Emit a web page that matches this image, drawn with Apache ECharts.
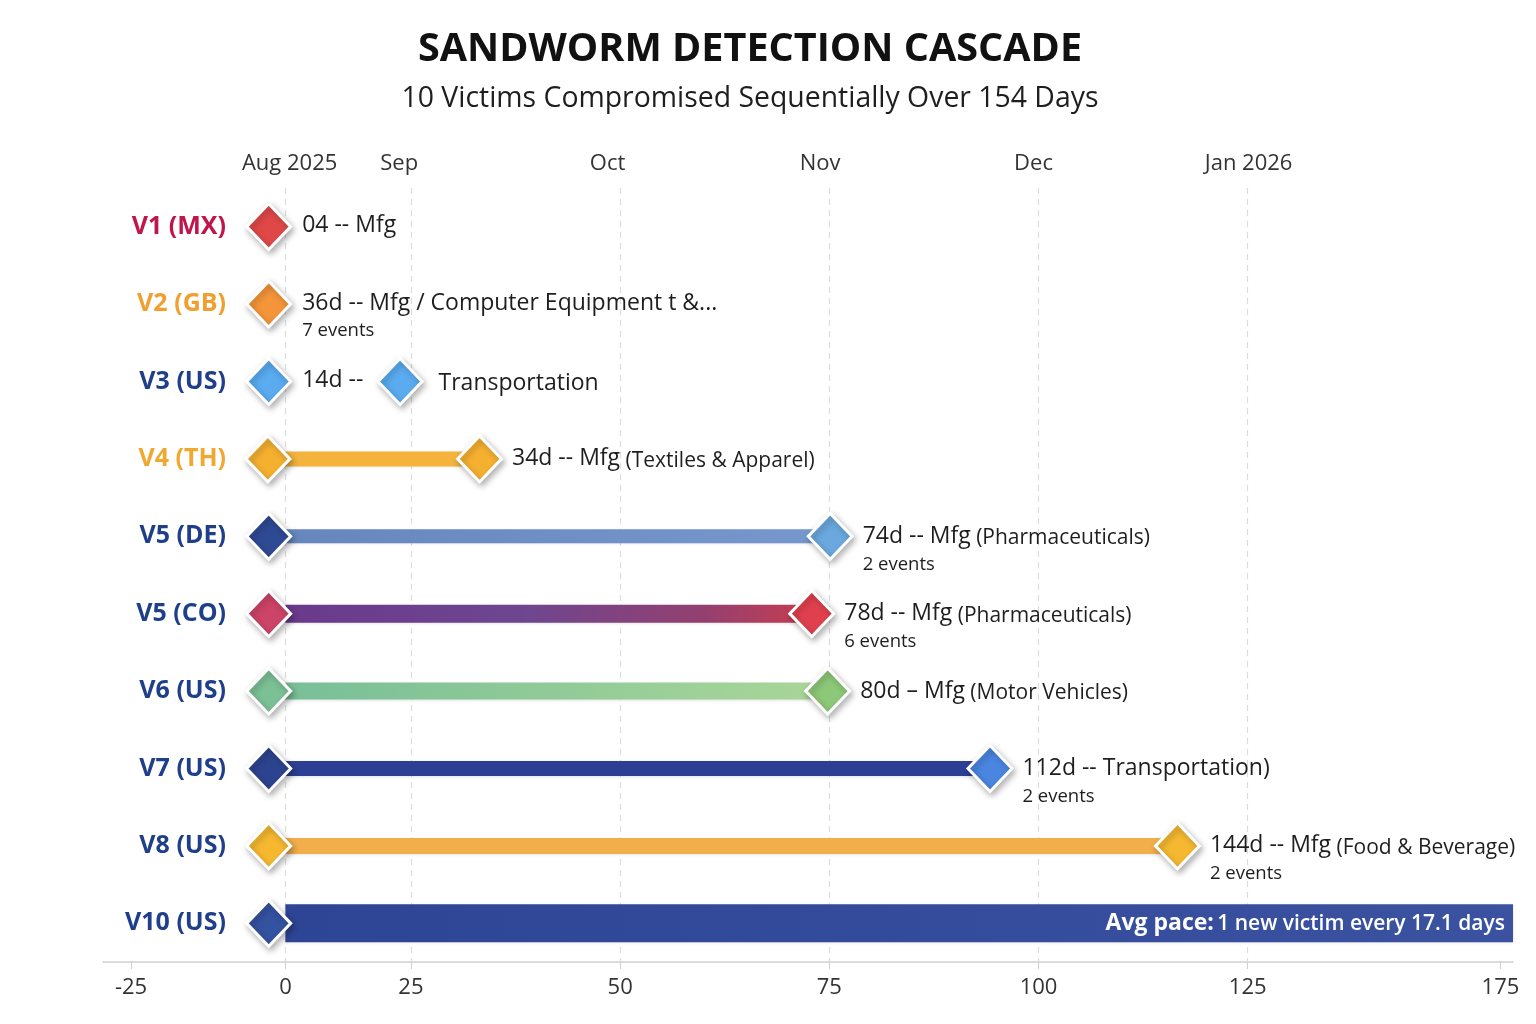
<!DOCTYPE html>
<html>
<head>
<meta charset="utf-8">
<script src="https://cdn.jsdelivr.net/npm/echarts@6/dist/echarts.min.js"></script>
<style>html,body{margin:0;padding:0;background:#fff}#chart{width:1536px;height:1024px}</style>
</head>
<body>
<div id="chart"></div>
<script>
// ---------------- data ----------------
const categories = ['V1 (MX)', 'V2 (GB)', 'V3 (US)', 'V4 (TH)', 'V5 (DE)', 'V5 (CO)', 'V6 (US)', 'V7 (US)', 'V8 (US)', 'V10 (US)'];
const firstSeen = [8.0, 8.0, 8.0, 7.9, 8.0, 8.0, 8.0, 8.0, 8.0, 8.0];
const lastSeen  = [null, null, 23.7, 33.2, 75.1, 72.9, 74.8, 94.2, 116.6, null];
const spanStart = [null, null, null, 10, 10, 10, 10, 10, 10, 10];
const spanEnd   = [null, null, null, 33.2, 75.1, 72.9, 74.8, 94.2, 116.6, 156.7];
const dwellText = ['04 -- Mfg', '36d -- Mfg / Computer Equipment t &...', '14d --', '34d -- Mfg', '74d -- Mfg', '78d -- Mfg', '80d \u2013 Mfg', '112d -- Transportation)', '144d -- Mfg', ''];
const sectorText = ['', '', 'Transportation', '(Textiles & Apparel)', '(Pharmaceuticals)', '(Pharmaceuticals)', '(Motor Vehicles)', '', '(Food & Beverage)', ''];
const eventCounts = [null, 7, null, null, 2, 6, null, 2, 2, null];
const paceLead = 'Avg pace:';
const paceText = '1 new victim every 17.1 days';
const bottomTickPos = [-8.45, 10, 25, 50, 75, 100, 125, 155.2];
const bottomTickText = ['-25', '0', '25', '50', '75', '100', '125', '175'];
const topTickPos = [10.5, 23.6, 48.5, 73.9, 99.4, 125.1];
const topTickText = ['Aug 2025', 'Sep', 'Oct', 'Nov', 'Dec', 'Jan 2026'];
const gridPos = [10, 25, 50, 75, 100, 125];
const titleText = 'SANDWORM DETECTION CASCADE';
const subtitleText = '10 Victims Compromised Sequentially Over 154 Days';

// ---------------- styles ----------------
const FONT = '"Open Sans", "Noto Sans", sans-serif';
const NAVY = '#1f3f8a';
const catColors = ['#c0154a', '#f0a030', NAVY, '#f0a830', NAVY, NAVY, NAVY, NAVY, NAVY, NAVY];
const startColors = ['#e04848', '#f5953a', '#5aabf0', '#f5b030', '#2f4a94', '#cc4468', '#7cc095', '#2c438f', '#f5b830', '#3552a0'];
const endColors = [null, null, '#5aabf0', '#f5b030', '#6aa8de', '#e0404e', '#8cc878', '#4a85e0', '#f5b830', null];
const barFills = [null, null, null,
  [[0, '#f3b33d'], [1, '#f3b33d']],
  [[0, '#6687be'], [1, '#7698cc']],
  [[0, '#6a3a8c'], [0.45, '#6e4690'], [0.8, '#94406f'], [1, '#c83d50']],
  [[0, '#78bf98'], [1, '#aad698']],
  [[0, '#2d3f92'], [1, '#2d3f92']],
  [[0, '#f2ae4a'], [1, '#f2ae4a']],
  [[0, '#2e4596'], [1, '#3a52a0']]];
const barThick = [0, 0, 0, 15, 14, 18, 17, 15, 16, 38];

const chart = echarts.init(document.getElementById('chart'), null, {renderer: 'canvas'});

function labelFor(i, where) {
  const hasEnd = lastSeen[i] != null;
  const hasBar = spanEnd[i] != null && spanStart[i] != null;
  let parts = [];
  let ev = eventCounts[i] != null ? eventCounts[i] + ' events' : '';
  if (where === 'start') {
    if (hasEnd) {
      if (hasBar) return '';
      return '{m|' + dwellText[i] + '}';
    }
    parts.push('{m|' + dwellText[i] + '}');
    if (sectorText[i]) parts.push('{s|  ' + sectorText[i] + '}');
    if (ev) parts.push('\n{e|' + ev + '}');
    return parts.join('');
  } else {
    if (!hasBar) {
      parts.push('{m|' + sectorText[i] + '}');
      if (ev) parts.push('\n{e|' + ev + '}');
      return parts.join('');
    }
    parts.push('{m|' + dwellText[i] + '}');
    if (sectorText[i]) parts.push('{s| ' + sectorText[i] + '}');
    if (ev) parts.push('\n{e|' + ev + '}');
    return parts.join('');
  }
}

const richStyle = {
  m: {fontFamily: FONT, fontSize: 23, color: '#1e1e1e', lineHeight: 28},
  s: {fontFamily: FONT, fontSize: 21, color: '#1e1e1e', lineHeight: 28, padding: [4, 0, 0, 0]},
  e: {fontFamily: FONT, fontSize: 18.5, color: '#1e1e1e', lineHeight: 28}
};

const diamondStyle = (c) => ({
  color: c, opacity: 1, borderColor: '#fff', borderWidth: 3,
  shadowBlur: 6, shadowColor: 'rgba(0,0,0,0.28)', shadowOffsetX: 2, shadowOffsetY: 3
});

const startData = categories.map((c, i) => ({
  value: [firstSeen[i], i],
  itemStyle: diamondStyle(startColors[i]),
  label: {
    show: !!labelFor(i, 'start'),
    formatter: labelFor(i, 'start'), color: '#1e1e1e',
    position: 'right', distance: 10, verticalAlign: 'top', offset: [0, -15], rich: richStyle
  }
}));

const endData = [];
categories.forEach((c, i) => {
  if (lastSeen[i] == null) return;
  const noBar = spanEnd[i] == null;
  endData.push({
    value: [lastSeen[i], i],
    itemStyle: diamondStyle(endColors[i]),
    label: {
      show: true, formatter: labelFor(i, 'end'), color: '#1e1e1e',
      position: 'right', distance: noBar ? 15 : 9, verticalAlign: 'top',
      offset: [0, noBar ? -12 : -14], rich: richStyle
    }
  });
});

const barData = [];
categories.forEach((c, i) => {
  if (spanEnd[i] == null) return;
  barData.push({value: [spanStart[i], spanEnd[i], i]});
});

const option = {
  backgroundColor: '#fff',
  animation: false,
  title: {
    text: titleText, subtext: subtitleText,
    left: 750, top: 27, textAlign: 'center', padding: 0, itemGap: 7,
    textStyle: {fontFamily: FONT, fontSize: 39.6, fontWeight: 'bold', color: '#111', lineHeight: 46},
    subtextStyle: {fontFamily: FONT, fontSize: 28.4, color: '#1e1e1e', lineHeight: 38}
  },
  grid: {left: 103, right: 23, top: 188, bottom: 62, containLabel: false},
  xAxis: [{
    type: 'value', position: 'bottom', min: -11.8, max: 156.7,
    axisLine: {show: true, lineStyle: {color: '#cfcfcf', width: 1.5}},
    axisTick: {show: true, customValues: bottomTickPos, length: 7, lineStyle: {color: '#cfcfcf'}},
    axisLabel: {
      customValues: bottomTickPos, margin: 15, fontFamily: FONT, fontSize: 22, color: '#333',
      formatter: (v) => { const k = bottomTickPos.findIndex(p => Math.abs(p - v) < 1e-6); return k >= 0 ? bottomTickText[k] : ''; }
    },
    splitLine: {show: false}
  }, {
    type: 'value', position: 'top', min: -11.8, max: 156.7,
    axisLine: {show: false}, axisTick: {show: false},
    axisLabel: {
      customValues: topTickPos, margin: 13, fontFamily: FONT, fontSize: 22, color: '#333',
      formatter: (v) => { const k = topTickPos.findIndex(p => Math.abs(p - v) < 1e-6); return k >= 0 ? topTickText[k] : ''; }
    },
    splitLine: {show: false}
  }],
  yAxis: {
    type: 'category', data: categories, inverse: true, offset: -131,
    axisLine: {show: false}, axisTick: {show: false}, splitLine: {show: false},
    axisLabel: {
      margin: 8, fontFamily: FONT, fontSize: 25, fontWeight: 'bold',
      color: (v) => catColors[categories.indexOf(v)]
    }
  },
  series: [
    {
      type: 'scatter', data: [], silent: true, z: 1,
      markLine: {
        silent: true, z: 1, symbol: ['none', 'none'], label: {show: false},
        lineStyle: {color: '#dcdcdc', type: [6, 5], width: 1.2},
        data: gridPos.map(v => ({xAxis: v}))
      }
    },
    {
      type: 'custom', z: 2, data: barData, encode: {x: [0, 1], y: 2},
      renderItem: function (params, api) {
        const i = api.value(2);
        const p0 = api.coord([api.value(0), i]);
        const p1 = api.coord([api.value(1), i]);
        const h = barThick[i];
        const f = barFills[i];
        const el = {
          type: 'rect',
          shape: {x: p0[0], y: p0[1] - h / 2, width: p1[0] - p0[0], height: h},
          style: {
            fill: new echarts.graphic.LinearGradient(0, 0, 1, 0, f.map(s => ({offset: s[0], color: s[1]}))),
            shadowBlur: 3, shadowColor: 'rgba(0,0,0,0.12)', shadowOffsetY: 1
          }
        };
        if (i === categories.length - 1) {
          el.textContent = {
            style: {
              text: '{b|' + paceLead + '} {n|' + paceText + '}',
              fill: '#ffffff',
              rich: {
                b: {fontFamily: FONT, fontSize: 23, fontWeight: 'bold', fill: '#ffffff'},
                n: {fontFamily: FONT, fontSize: 21, fontWeight: 600, fill: '#ffffff', padding: [2, 0, 0, 0]}
              }
            }
          };
          el.textConfig = {position: 'insideRight', distance: 8, insideFill: '#ffffff', insideStroke: 'transparent'};
        }
        return el;
      }
    },
    {
      type: 'scatter', z: 3, symbol: 'diamond', symbolSize: [44, 46],
      itemStyle: {opacity: 1}, data: startData
    },
    {
      type: 'scatter', z: 3, symbol: 'diamond', symbolSize: [44, 46],
      itemStyle: {opacity: 1}, data: endData
    }
  ]
};
chart.setOption(option);
</script>
</body>
</html>
